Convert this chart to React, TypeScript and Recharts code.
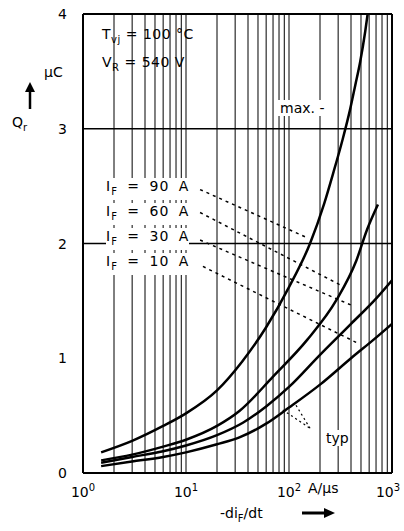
import React from 'react';
import { LineChart, Line, XAxis, YAxis, ReferenceLine } from 'recharts';

// -di_F/dt in A/µs (log scale) vs Q_r in µC
const rate90 = [1.5, 3, 6, 10, 20, 35, 60, 100, 160, 220, 270, 330, 390, 440, 490, 550, 580];
const q90 = [0.18, 0.28, 0.41, 0.52, 0.72, 0.97, 1.27, 1.62, 2.0, 2.35, 2.62, 2.9, 3.16, 3.38, 3.58, 3.85, 4.0];
const rate60 = [1.5, 3, 6, 10, 20, 33, 70, 150, 290, 450, 572, 730];
const q60 = [0.11, 0.16, 0.23, 0.29, 0.41, 0.54, 0.84, 1.16, 1.51, 1.85, 2.12, 2.34];
const rate30 = [1.5, 3, 6, 10, 20, 36, 60, 100, 200, 400, 700, 1000];
const q30 = [0.09, 0.14, 0.19, 0.24, 0.33, 0.44, 0.58, 0.75, 1.03, 1.3, 1.52, 1.68];
const rate10 = [1.5, 3, 6, 10, 20, 33, 60, 100, 200, 400, 700, 1000];
const q10 = [0.06, 0.1, 0.14, 0.18, 0.25, 0.31, 0.43, 0.57, 0.77, 1.0, 1.18, 1.3];

const xTicks = [1, 10, 100, 1000];
const xTickExp = ['0', '1', '2', '3'];
const yTicks = [0, 1, 2, 3, 4];
const gridX = [2, 3, 4, 5, 6, 7, 8, 9, 10, 20, 30, 40, 50, 60, 70, 80, 90, 100, 200, 300, 400, 500, 600, 700, 800, 900];
const gridY = [2, 3];

const curveCurrents = ['90', '60', '30', '10'];
// leader lines: [x1, y1, x2, y2] in data units
const leaders = [
  [13.7, 2.47, 150, 2.05],
  [13.7, 2.27, 313, 1.64],
  [13.7, 2.03, 409, 1.46],
  [14.6, 1.8, 468, 1.13],
];
const typArrows = [
  [87, 0.55, 160, 0.39],
  [117, 0.59, 160, 0.39],
];

const toPts = (xs: number[], ys: number[]) => xs.map((x, i) => ({ x, y: ys[i] }));

const FONT = '"DejaVu Sans", sans-serif';

const XTick = (props: any) => {
  const { x, y, index } = props;
  return (
    <text x={x} y={y + 16} textAnchor="middle" fontFamily={FONT} fontSize={14} fill="#000">
      10
      <tspan dy={-6} fontSize={10}>{xTickExp[index] ?? ''}</tspan>
    </text>
  );
};

const YTick = (props: any) => {
  const { x, y, payload } = props;
  return (
    <text x={x - 8} y={y + 5} textAnchor="end" fontFamily={FONT} fontSize={14} fill="#000">
      {payload.value}
    </text>
  );
};

const txt: React.CSSProperties = {
  position: 'absolute',
  fontFamily: FONT,
  fontSize: 14,
  color: '#000',
  whiteSpace: 'nowrap',
  lineHeight: '16px',
};

export default function App() {
  const series = [
    { name: 'I_F = 90 A', data: toPts(rate90, q90) },
    { name: 'I_F = 60 A', data: toPts(rate60, q60) },
    { name: 'I_F = 30 A', data: toPts(rate30, q30) },
    { name: 'I_F = 10 A', data: toPts(rate10, q10) },
  ];
  return (
    <div style={{ position: 'absolute', left: 0, top: 0, width: 404, height: 531, background: '#fff' }}>
      <LineChart width={404} height={531} margin={{ top: 14, right: 12, bottom: 28, left: 53 }}>
        <XAxis
          dataKey="x"
          type="number"
          scale="log"
          domain={[1, 1000]}
          ticks={xTicks}
          allowDataOverflow
          height={30}
          tick={<XTick />}
          tickLine={false}
          axisLine={{ stroke: '#000', strokeWidth: 2 }}
        />
        <YAxis
          type="number"
          domain={[0, 4]}
          ticks={yTicks}
          allowDataOverflow
          width={30}
          tick={<YTick />}
          tickLine={false}
          axisLine={{ stroke: '#000', strokeWidth: 2 }}
        />
        {gridX.map((g) => (
          <ReferenceLine key={'gx' + g} x={g} stroke="#000" strokeWidth={1} />
        ))}
        {gridY.map((g) => (
          <ReferenceLine key={'gy' + g} y={g} stroke="#000" strokeWidth={1.5} />
        ))}
        <ReferenceLine y={4} stroke="#000" strokeWidth={2} />
        <ReferenceLine x={1000} stroke="#000" strokeWidth={2} />
        {leaders.map((l, i) => (
          <ReferenceLine
            key={'ld' + i}
            segment={[{ x: l[0], y: l[1] }, { x: l[2], y: l[3] }]}
            stroke="#000"
            strokeWidth={1.5}
            strokeDasharray="3 4"
          />
        ))}
        {typArrows.map((l, i) => (
          <ReferenceLine
            key={'ta' + i}
            segment={[{ x: l[0], y: l[1] }, { x: l[2], y: l[3] }]}
            stroke="#000"
            strokeWidth={1.2}
            strokeDasharray="2 3"
          />
        ))}
        {series.map((s) => (
          <Line
            key={s.name}
            data={s.data}
            dataKey="y"
            type="monotone"
            stroke="#000"
            strokeWidth={2.5}
            dot={false}
            isAnimationActive={false}
          />
        ))}
      </LineChart>

      <div style={{ ...txt, left: 102, top: 26, letterSpacing: 0.5 }}>
        T<sub style={{ fontSize: 10 }}>vj</sub> = 100 °C
      </div>
      <div style={{ ...txt, left: 102, top: 54, letterSpacing: 0.5 }}>
        V<sub style={{ fontSize: 10 }}>R</sub> = 540 V
      </div>
      <div style={{ ...txt, left: 44, top: 64 }}>µC</div>
      <svg style={{ position: 'absolute', left: 24, top: 80 }} width={12} height={30}>
        <path d="M6 29 L6 8" stroke="#000" strokeWidth={2.5} />
        <path d="M1 12 L6 2 L11 12 Z" fill="#000" />
      </svg>
      <div style={{ ...txt, left: 12, top: 114 }}>
        Q<sub style={{ fontSize: 10 }}>r</sub>
      </div>
      <div style={{ ...txt, left: 278, top: 100, background: '#fff', padding: '0 2px' }}>max. -</div>
      {curveCurrents.map((c, i) => (
        <div
          key={c + i}
          style={{ ...txt, left: 106, top: 178 + i * 25, background: '#fff', letterSpacing: 1, wordSpacing: 4 }}
        >
          I<sub style={{ fontSize: 10 }}>F</sub> = {c} A
        </div>
      ))}
      <div style={{ ...txt, left: 326, top: 430, background: '#fff' }}>typ</div>
      <div style={{ ...txt, left: 308, top: 480, background: '#fff' }}>A/µs</div>
      <div style={{ ...txt, left: 220, top: 505 }}>
        -di<sub style={{ fontSize: 10 }}>F</sub>/dt
      </div>
      <svg style={{ position: 'absolute', left: 302, top: 506 }} width={34} height={14}>
        <path d="M0 7 L24 7" stroke="#000" strokeWidth={3} />
        <path d="M22 2 L33 7 L22 12 Z" fill="#000" />
      </svg>
    </div>
  );
}
